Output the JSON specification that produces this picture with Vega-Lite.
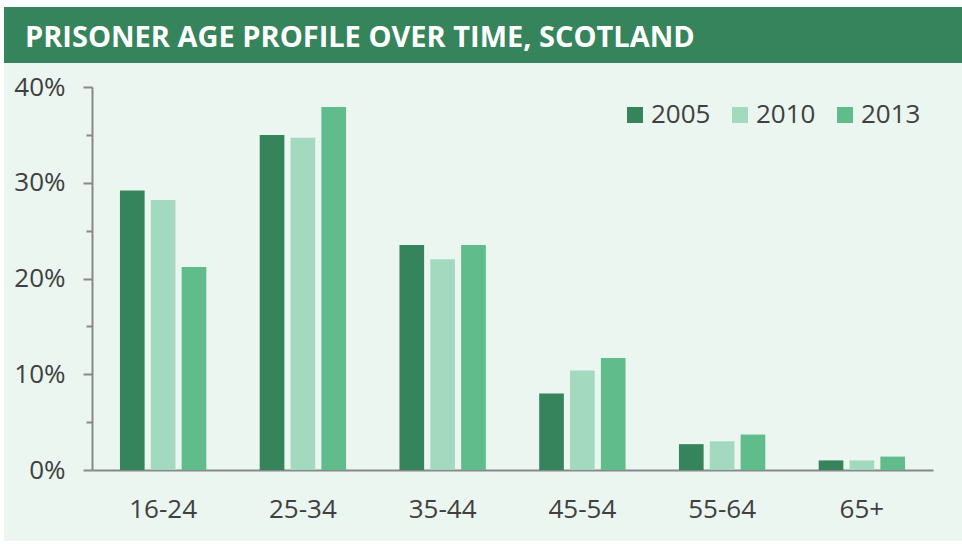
{
  "$schema": "https://vega.github.io/schema/vega-lite/v6.json",
  "background": "#ffffff",
  "padding": {"left": 4, "top": 7, "right": 0, "bottom": 0},
  "spacing": 0,
  "config": {
    "view": {"stroke": null},
    "font": "Open Sans"
  },
  "resolve": {"legend": {"color": "independent"}},
  "vconcat": [
    {
      "width": 958,
      "height": 56,
      "view": {"fill": "#36845c", "stroke": null},
      "data": {"values": [{"title": "PRISONER AGE PROFILE OVER TIME, SCOTLAND"}]},
      "mark": {
        "type": "text",
        "align": "left",
        "baseline": "alphabetic",
        "dx": 21,
        "dy": 12,
        "font": "Open Sans",
        "fontWeight": "bold",
        "fontSize": 29,
        "color": "#ffffff"
      },
      "encoding": {
        "text": {"field": "title", "type": "nominal"},
        "x": {"datum": 0, "type": "quantitative", "scale": {"domain": [0, 1]}, "axis": null},
        "y": {"datum": 0.5, "type": "quantitative", "scale": {"domain": [0, 1]}, "axis": null}
      }
    },
    {
      "width": 958,
      "height": 478,
      "view": {"fill": "#ebf6f0", "stroke": null},
      "data": {
        "values": [
          {"age": "16-24", "year": "2005", "pct": 29.2},
          {"age": "16-24", "year": "2010", "pct": 28.2},
          {"age": "16-24", "year": "2013", "pct": 21.2},
          {"age": "25-34", "year": "2005", "pct": 35.0},
          {"age": "25-34", "year": "2010", "pct": 34.7},
          {"age": "25-34", "year": "2013", "pct": 37.9},
          {"age": "35-44", "year": "2005", "pct": 23.5},
          {"age": "35-44", "year": "2010", "pct": 22.0},
          {"age": "35-44", "year": "2013", "pct": 23.5},
          {"age": "45-54", "year": "2005", "pct": 8.0},
          {"age": "45-54", "year": "2010", "pct": 10.4},
          {"age": "45-54", "year": "2013", "pct": 11.7},
          {"age": "55-64", "year": "2005", "pct": 2.7},
          {"age": "55-64", "year": "2010", "pct": 3.0},
          {"age": "55-64", "year": "2013", "pct": 3.7},
          {"age": "65+", "year": "2005", "pct": 1.0},
          {"age": "65+", "year": "2010", "pct": 1.0},
          {"age": "65+", "year": "2013", "pct": 1.4}
        ]
      },
      "mark": {"type": "bar"},
      "encoding": {
        "x": {
          "field": "age",
          "type": "nominal",
          "sort": ["16-24", "25-34", "35-44", "45-54", "55-64", "65+"],
          "scale": {"range": [88, 929], "paddingInner": 0.382, "paddingOuter": 0.2},
          "axis": {
            "title": null,
            "offset": -71,
            "labelAngle": 0,
            "ticks": false,
            "tickSize": 0,
            "labelPadding": 26,
            "labelFontSize": 26,
            "labelFont": "Open Sans",
            "labelColor": "#404040",
            "domainColor": "#888888",
            "domainWidth": 2
          }
        },
        "xOffset": {
          "field": "year",
          "type": "nominal",
          "scale": {"paddingInner": 0.2, "paddingOuter": 0}
        },
        "y": {
          "field": "pct",
          "type": "quantitative",
          "scale": {"domain": [0, 40], "nice": false, "range": [407, 24]},
          "axis": {
            "title": null,
            "offset": -88,
            "grid": false,
            "values": [0, 5, 10, 15, 20, 25, 30, 35, 40],
            "labelExpr": "datum.value % 10 === 0 ? datum.value + '%' : ''",
            "tickSize": {"condition": {"test": "datum.value % 10 === 0", "value": 9}, "value": 6},
            "labelPadding": 18,
            "labelFontSize": 26,
            "labelFont": "Open Sans",
            "labelColor": "#404040",
            "domainColor": "#888888",
            "domainWidth": 2,
            "tickColor": "#888888",
            "tickWidth": 2
          }
        },
        "color": {
          "field": "year",
          "type": "nominal",
          "scale": {"domain": ["2005", "2010", "2013"], "range": ["#36845c", "#a3dabf", "#60bc8a"]},
          "legend": {
            "title": null,
            "orient": "none",
            "legendX": 618,
            "legendY": 39,
            "direction": "horizontal",
            "symbolType": "square",
            "symbolSize": 256,
            "symbolStrokeWidth": 0,
            "symbolOpacity": 1,
            "labelFontSize": 26,
            "labelFont": "Open Sans",
            "labelColor": "#404040",
            "labelOffset": 3,
            "columnPadding": 16,
            "padding": 0
          }
        }
      }
    }
  ]
}
